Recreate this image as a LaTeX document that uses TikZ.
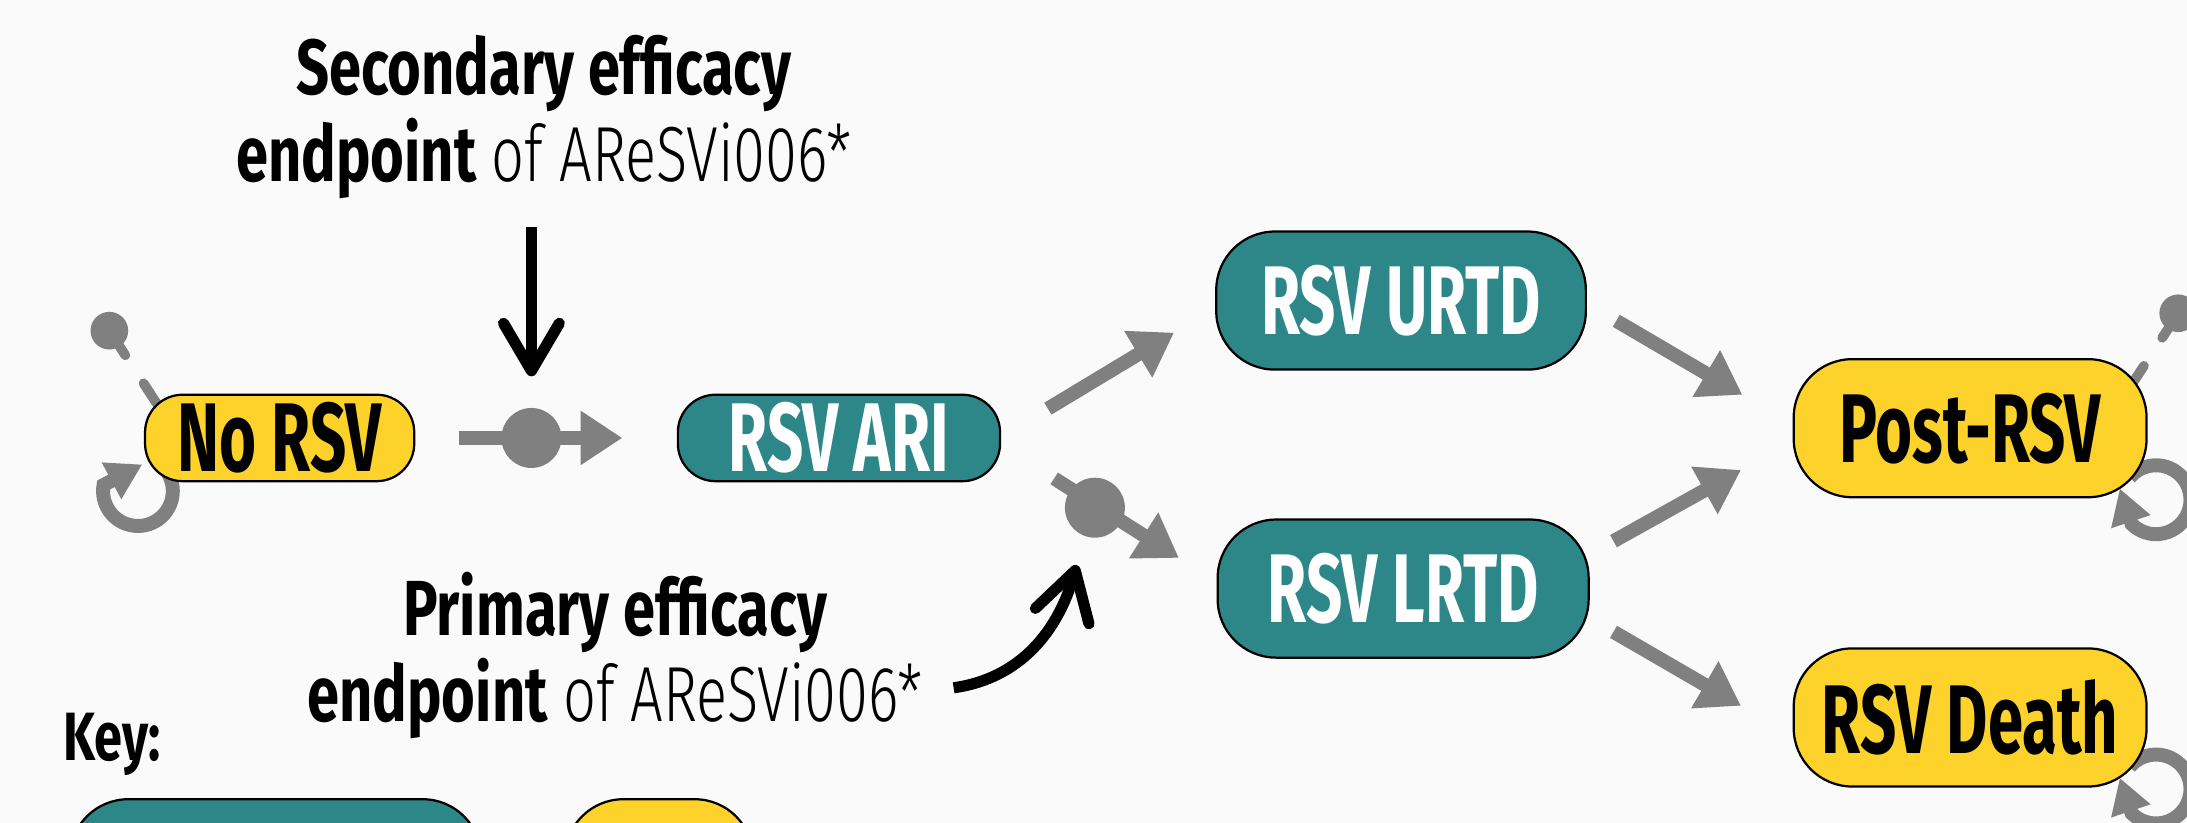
\documentclass[tikz,border=0pt]{standalone}
\usepackage{fontspec}
\setmainfont{Fira Sans}[FakeStretch=0.74]
\newfontfamily\thinfont{Fira Sans Light}[FakeStretch=0.74]
\newfontfamily\statefamily{Fira Sans}[FakeStretch=0.65]
\usetikzlibrary{arrows.meta,backgrounds}

\definecolor{rsvteal}{HTML}{2D8789}
\definecolor{rsvyellow}{HTML}{FDD22B}
\definecolor{flowgray}{HTML}{808080}
\definecolor{paper}{HTML}{FAFAFA}

\newcommand\statefont{\statefamily\fontsize{70}{72}\selectfont\bfseries}
\newcommand\notefont{\fontsize{56}{62}\selectfont}

\begin{document}
\begin{tikzpicture}[x=1pt,y=1pt,
  box/.style={draw=black,line width=1.6pt,inner sep=0pt,font=\statefont},
  small/.style={box,minimum height=62pt,rounded corners=27pt},
  big/.style={box,minimum height=99pt,rounded corners=42pt},
  sick/.style={fill=rsvteal,text=white},
  well/.style={fill=rsvyellow,text=black},
  flow/.style={draw=flowgray,line width=10pt,-{Triangle[length=30pt,width=37pt]}},
  hub/.style={circle,fill=flowgray,minimum size=43pt,inner sep=0pt},
  pinhead/.style={circle,fill=flowgray,minimum size=27pt,inner sep=0pt},
  pinline/.style={draw=flowgray,line width=7pt,line cap=round,dash pattern=on 21pt off 24pt on 80pt off 0pt},
  selfloop/.style={draw=flowgray,line width=10pt,-{Triangle[length=25pt,width=28pt]}},
  note/.style={align=center,font=\notefont,inner sep=0pt},
  pointer/.style={draw=black,line width=8pt,-{Straight Barb[length=34pt,width=40pt,round]}}]

\useasboundingbox (0,0) rectangle (1568,590);
\begin{scope}[on background layer]
  \fill[paper] (0,0) rectangle (1568,590);
\end{scope}
\clip (0,0) rectangle (1568,590);

% states
\node[small,well,minimum width=193pt] (norsv) at (200.5,276) {No RSV};
\node[small,sick,minimum width=231pt] (ari) at (601.5,276) {RSV ARI};
\node[big,sick,minimum width=265pt] (urtd) at (1004.5,374.5) {RSV URTD};
\node[big,sick,minimum width=266pt] (lrtd) at (1006,168) {RSV LRTD};
\node[big,well,minimum width=253pt] (post) at (1412.5,283) {Post-RSV};
\node[big,well,minimum width=253pt] (death) at (1412.5,75.6) {RSV Death};

% key
\node[anchor=base west,font=\fontsize{49}{50}\selectfont\bfseries] (keylabel) at (42,45) {Key:};
\node[big,sick,minimum width=295pt] (keysick) at (197.5,-32.5) {};
\node[big,well,minimum width=135pt] (keywell) at (472.5,-32.5) {};

% entry pins and self loops
\node[pinhead] (pinA) at (78.4,352.9) {};
\node[pinhead] (pinB) at (1561.7,365.4) {};
\begin{scope}[on background layer]
  \draw[pinline] (pinA.center) -- ([shift={(13,-13)}]norsv.north west);
  \draw[pinline] (pinB.center) -- ([shift={(-16,-26)}]post.north east);
  \draw[selfloop] ([shift={(-4.3,-6.3)}]norsv.south west) ++(35:25)
    arc[start angle=35,end angle=-190,radius=25] -- ([shift={(-1.2,12.8)}]norsv.south west);
  \foreach \n in {post,death}
    \draw[selfloop] ([shift={(6,-1)}]\n.south east) ++(140:24.7)
      arc[start angle=140,end angle=-135,radius=24.7] -- ([shift={(-20,7)}]\n.south east);
\end{scope}

% transitions
\node[hub] (hubA) at (381,276) {};
\node[hub] (hubB) at (785,226) {};
\draw[flow] ([xshift=31]norsv.east) -- ([xshift=-39]ari.west);
\draw[flow] ([shift={(33.5,21)}]ari.east) -- ([shift={(-29.5,-23)}]urtd.west);
\draw[flow] ([shift={(38,-29)}]ari.east) -- ([shift={(-27,22)}]lrtd.west);
\draw[flow] ([shift={(21,-14.5)}]urtd.east) -- ([shift={(-36,24)}]post.west);
\draw[flow] ([shift={(17,34)}]lrtd.east) -- ([shift={(-37,-30)}]post.west);
\draw[flow] ([shift={(17,-31)}]lrtd.east) -- ([shift={(-37,8.4)}]death.west);

% endpoints
\node[note] (secnote) at (390,506) {\bfseries Secondary efficacy\\
  {\bfseries endpoint} {\thinfont of AReSVi006*}};
\node[note] (primnote) at (441,120) {\bfseries Primary efficacy\\
  {\bfseries endpoint} {\thinfont of AReSVi006*}};
\draw[pointer] (secnote.south -| hubA) ++(0,-20) -- ([yshift=22.5]hubA.north);
\draw[pointer] ([shift={(22,37)}]primnote.south east) to[out=8,in=-106] ([shift={(-13,-19.5)}]hubB.south);
\end{tikzpicture}
\end{document}
